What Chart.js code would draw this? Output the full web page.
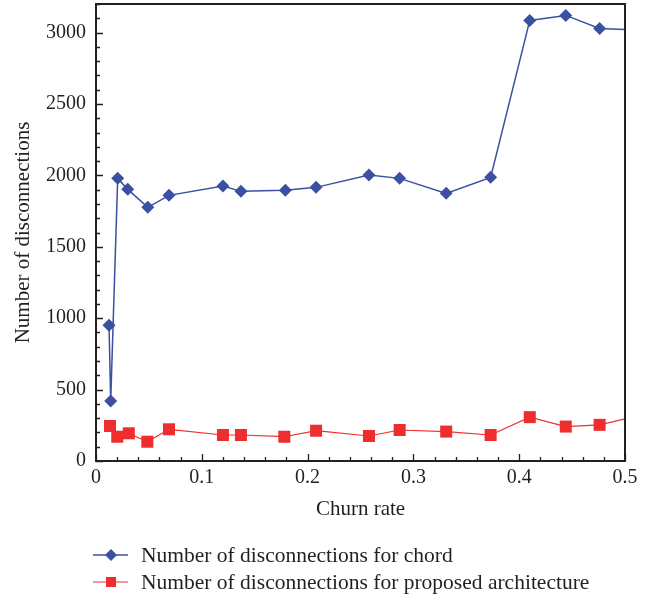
<!DOCTYPE html>
<html>
<head>
<meta charset="utf-8">
<script src="https://cdn.jsdelivr.net/npm/chart.js@4.4.0/dist/chart.umd.min.js"></script>
<style>
  html, body { margin: 0; padding: 0; background: #fff; }
</style>
</head>
<body>
<canvas id="chart" width="658" height="599"></canvas>
<script>
// values (last point of each series lies just past x = 0.5 and is clipped)
const chordRate = [0.0123, 0.0139, 0.0205, 0.030, 0.049, 0.069, 0.120, 0.137, 0.179, 0.208, 0.258, 0.287, 0.331, 0.373, 0.410, 0.444, 0.476, 0.51];
const chordCount = [950, 420, 1979, 1902, 1776, 1860, 1925, 1888, 1895, 1916, 2002, 1979, 1874, 1986, 3085, 3120, 3028, 3018];

const archRate = [0.0132, 0.0201, 0.031, 0.0485, 0.069, 0.120, 0.137, 0.178, 0.208, 0.258, 0.287, 0.331, 0.373, 0.410, 0.444, 0.476, 0.51];
const archCount = [245, 170, 194, 135, 222, 182, 182, 170, 212, 175, 217, 206, 182, 307, 241, 253, 312];

const xTickValues = [0, 0.1, 0.2, 0.3, 0.4, 0.5];
const yTickValues = [0, 500, 1000, 1500, 2000, 2500, 3000];
const xRange = { min: 0, max: 0.5, minor: 0.02 };
const yRange = { min: 0, max: 3200, minor: 100 };

const blue = '#3a50a3';
const red = '#ee2e2e';
const ink = '#231f20';

Chart.defaults.font.family = '"Liberation Serif", "DejaVu Serif", serif';
Chart.defaults.color = ink;

// box around the plot with inward tick marks
const frame = {
  id: 'frame',
  afterDatasetsDraw(chart) {
    const { ctx, chartArea: a, scales: { x, y } } = chart;
    const near = (v, list) => list.some(t => Math.abs(t - v) < 1e-6);
    ctx.save();
    ctx.strokeStyle = ink;
    ctx.lineWidth = 1.3;
    ctx.beginPath();
    for (let v = xRange.min; v <= xRange.max + 1e-9; v += xRange.minor) {
      const px = Math.round(x.getPixelForValue(v)) + 0.5;
      ctx.moveTo(px, a.bottom);
      ctx.lineTo(px, a.bottom - (near(v, xTickValues) ? 7 : 4));
    }
    for (let v = yRange.min; v <= yRange.max + 1e-9; v += yRange.minor) {
      const py = Math.round(y.getPixelForValue(v)) + 0.5;
      ctx.moveTo(a.left, py);
      ctx.lineTo(a.left + (near(v, yTickValues) ? 7 : 4), py);
    }
    ctx.stroke();
    ctx.lineWidth = 2;
    ctx.strokeRect(a.left, a.top, a.right - a.left, a.bottom - a.top);
    ctx.restore();
  }
};

// legend under the axis title: line sample with marker, then the label
const lineLegend = {
  id: 'lineLegend',
  afterDraw(chart) {
    const { ctx, chartArea: a } = chart;
    ctx.save();
    ctx.font = '21.5px "Liberation Serif", serif';
    ctx.textBaseline = 'middle';
    chart.data.datasets.forEach((ds, i) => {
      const y0 = a.bottom + 94 + i * 27;
      const x0 = a.left - 3;
      ctx.strokeStyle = ds.borderColor;
      ctx.lineWidth = ds.borderWidth;
      ctx.beginPath();
      ctx.moveTo(x0, y0);
      ctx.lineTo(x0 + 35, y0);
      ctx.stroke();
      ctx.fillStyle = ds.backgroundColor;
      const cx = x0 + 18;
      ctx.beginPath();
      if (ds.pointStyle === 'rectRot') {
        ctx.moveTo(cx - 6, y0); ctx.lineTo(cx, y0 - 6); ctx.lineTo(cx + 6, y0); ctx.lineTo(cx, y0 + 6);
      } else {
        ctx.rect(cx - 5, y0 - 5, 10, 10);
      }
      ctx.closePath();
      ctx.fill();
      ctx.fillStyle = ink;
      ctx.fillText(ds.label, x0 + 48, y0 + 1);
    });
    ctx.restore();
  }
};

new Chart(document.getElementById('chart'), {
  type: 'line',
  data: {
    datasets: [
      {
        label: 'Number of disconnections for chord',
        data: chordRate.map((r, i) => ({ x: r, y: chordCount[i] })),
        borderColor: blue,
        backgroundColor: blue,
        borderWidth: 1.5,
        pointStyle: 'rectRot',
        pointRadius: 6.5,
        pointBorderWidth: 0,
        tension: 0,
        clip: 0
      },
      {
        label: 'Number of disconnections for proposed architecture',
        data: archRate.map((r, i) => ({ x: r, y: archCount[i] })),
        borderColor: red,
        backgroundColor: red,
        borderWidth: 1.2,
        pointStyle: 'rect',
        pointRadius: 8.5,
        pointBorderWidth: 0,
        tension: 0,
        clip: 0
      }
    ]
  },
  options: {
    responsive: false,
    animation: false,
    layout: { autoPadding: false, padding: { left: 0, top: 4, right: 33, bottom: 76 } },
    plugins: { legend: { display: false }, tooltip: { enabled: false } },
    scales: {
      x: {
        type: 'linear',
        min: xRange.min,
        max: xRange.max,
        grid: { display: false, drawTicks: false },
        border: { display: false },
        afterBuildTicks(s) { s.ticks = xTickValues.map(v => ({ value: v })); },
        ticks: { padding: 5, maxRotation: 0, autoSkip: false, font: { size: 20 }, callback: v => String(v) },
        title: { display: true, text: 'Churn rate', font: { size: 21 }, padding: { top: 0, bottom: 1 } },
        afterFit(s) { s.height = 62; s.paddingLeft = 0; s.paddingRight = 0; }
      },
      y: {
        min: yRange.min,
        max: yRange.max,
        grid: { display: false, drawTicks: false },
        border: { display: false },
        afterBuildTicks(s) { s.ticks = yTickValues.map(v => ({ value: v })); },
        ticks: { padding: 10, autoSkip: false, font: { size: 20 }, callback: v => String(v) },
        title: { display: true, text: 'Number of disconnections', font: { size: 21 }, padding: { top: 11, bottom: 0 } },
        afterFit(s) { s.width = 96; s.paddingTop = 0; s.paddingBottom = 0; }
      }
    }
  },
  plugins: [frame, lineLegend]
});
</script>
</body>
</html>
